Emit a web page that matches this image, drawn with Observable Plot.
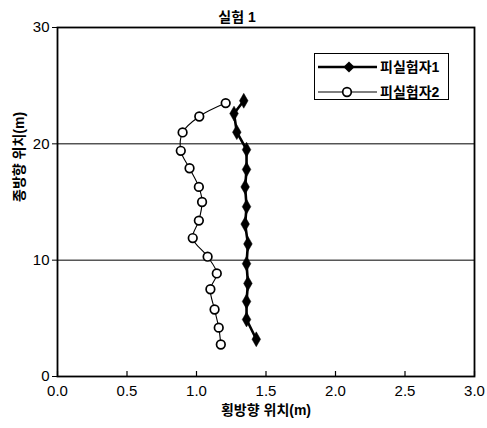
<!DOCTYPE html>
<html>
<head>
<meta charset="utf-8">
<script src="https://cdn.jsdelivr.net/npm/d3@7"></script>
<script src="https://cdn.jsdelivr.net/npm/@observablehq/plot@0.6"></script>
<style>
  html, body { margin: 0; padding: 0; background: white; }
  #wrap { position: relative; width: 487px; height: 428px; }
  #wrap svg { font-family: "Liberation Sans", "Noto Sans CJK KR", sans-serif; }
  #legend {
    position: absolute; left: 314px; top: 53px; width: 133px; height: 45px;
    border: 1.5px solid black; background: white;
    font-family: "Liberation Sans", "Noto Sans CJK KR", sans-serif;
  }
</style>
</head>
<body>
<div id="wrap"></div>
<script>
const title = "실험 1";
const xLabel = "횡방향 위치(m)";
const yLabel = "종방향 위치(m)";
const seriesNames = ["피실험자1", "피실험자2"];
const xTicks = [0, 0.5, 1.0, 1.5, 2.0, 2.5, 3.0];
const yTicks = [0, 10, 20, 30];
const gridY = [10, 20];

// 피실험자1 (diamonds)
const s1x = [1.34, 1.27, 1.29, 1.36, 1.36, 1.35, 1.36, 1.35, 1.37, 1.36, 1.37, 1.36, 1.36, 1.43];
const s1y = [23.7, 22.6, 21.0, 19.5, 17.8, 16.3, 14.6, 13.1, 11.4, 9.7, 8.0, 6.45, 4.9, 3.2];
// 피실험자2 (open circles)
const s2x = [1.21, 1.02, 0.90, 0.887, 0.95, 1.017, 1.04, 1.017, 0.973, 1.08, 1.146, 1.10, 1.13, 1.16, 1.175];
const s2y = [23.5, 22.35, 20.98, 19.4, 17.9, 16.3, 15.0, 13.4, 11.9, 10.3, 8.86, 7.5, 5.76, 4.2, 2.75];

const s1 = s1x.map((x, i) => ({x, y: s1y[i]}));
const s2 = s2x.map((x, i) => ({x, y: s2y[i]}));

const W = 487, H = 428, mT = 27, mR = 13, mB = 52, mL = 57;
const frameH = H - mT - mB;

const chart = Plot.plot({
  width: W, height: H,
  marginTop: mT, marginRight: mR, marginBottom: mB, marginLeft: mL,
  style: {fontSize: "15px", background: "white", color: "black", overflow: "visible"},
  x: {domain: [0, 3]},
  y: {domain: [0, 30]},
  marks: [
    Plot.ruleY(gridY, {stroke: "black", strokeWidth: 1}),
    Plot.ruleX(xTicks, {x: d => d, insetTop: frameH - 5, stroke: "black", strokeWidth: 1.2}),
    Plot.axisX({ticks: xTicks, tickSize: 0, tickPadding: 9, tickFormat: d => d.toFixed(1),
      label: null, fontSize: 15, fill: "black"}),
    Plot.axisY({ticks: yTicks, tickSize: 5, tickPadding: 3, label: null, fontSize: 15, fill: "black"}),
    Plot.frame({stroke: "black", strokeWidth: 1.8}),
    Plot.line(s2, {x: "x", y: "y", curve: "catmull-rom", stroke: "black", strokeWidth: 1.1}),
    Plot.dot(s2, {x: "x", y: "y", symbol: "circle", r: 4.3, fill: "white", stroke: "black", strokeWidth: 1.7}),
    Plot.line(s1, {x: "x", y: "y", stroke: "black", strokeWidth: 2.6}),
    Plot.dot(s1, {x: "x", y: "y", symbol: "diamond", r: 4.5, fill: "black", stroke: "black", strokeWidth: 0.5}),
    Plot.text([title], {frameAnchor: "top", dx: -29, dy: -15, fontSize: 14, fontWeight: "bold", fill: "black"}),
    Plot.text([xLabel], {frameAnchor: "bottom", dy: 38, fontSize: 14, fontWeight: "bold", fill: "black"}),
    Plot.text([yLabel], {frameAnchor: "left", dx: -38, rotate: -90, fontSize: 14, fontWeight: "bold", fill: "black"})
  ]
});
document.getElementById("wrap").appendChild(chart);

// legend
const leg = document.createElement("div");
leg.id = "legend";
const ns = "http://www.w3.org/2000/svg";
const lsvg = document.createElementNS(ns, "svg");
lsvg.setAttribute("width", 133); lsvg.setAttribute("height", 45);
const rows = [
  {y: 13, sw: 2.6, marker: "diamond"},
  {y: 38, sw: 1.1, marker: "circle"}
];
rows.forEach((r, i) => {
  const ln = document.createElementNS(ns, "line");
  ln.setAttribute("x1", 3); ln.setAttribute("x2", 62);
  ln.setAttribute("y1", r.y); ln.setAttribute("y2", r.y);
  ln.setAttribute("stroke", "black"); ln.setAttribute("stroke-width", r.sw);
  lsvg.appendChild(ln);
  const cx = i === 0 ? 34 : 32;
  if (r.marker === "diamond") {
    const p = document.createElementNS(ns, "path");
    const a = 5.6;
    p.setAttribute("d", `M${cx},${r.y - a}L${cx + a},${r.y}L${cx},${r.y + a}L${cx - a},${r.y}Z`);
    p.setAttribute("fill", "black");
    lsvg.appendChild(p);
  } else {
    const c = document.createElementNS(ns, "circle");
    c.setAttribute("cx", cx); c.setAttribute("cy", r.y); c.setAttribute("r", 4.3);
    c.setAttribute("fill", "white"); c.setAttribute("stroke", "black"); c.setAttribute("stroke-width", 1.7);
    lsvg.appendChild(c);
  }
  const t = document.createElementNS(ns, "text");
  t.setAttribute("x", 65); t.setAttribute("y", r.y);
  t.setAttribute("dy", "0.36em");
  t.setAttribute("font-size", 14); t.setAttribute("font-weight", "bold");
  t.setAttribute("font-family", '"Liberation Sans", "Noto Sans CJK KR", sans-serif');
  t.textContent = seriesNames[i];
  lsvg.appendChild(t);
});
leg.appendChild(lsvg);
document.getElementById("wrap").appendChild(leg);
</script>
</body>
</html>
